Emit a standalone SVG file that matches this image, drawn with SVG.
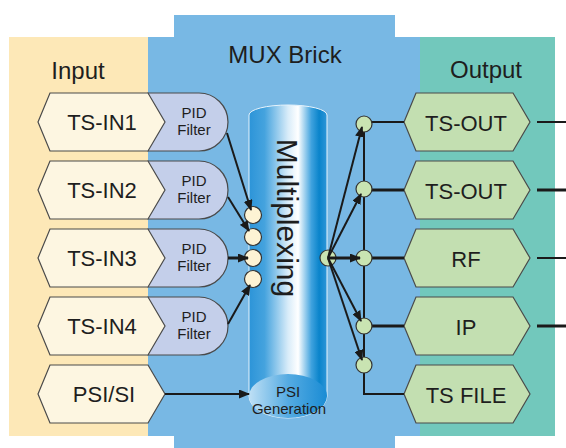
<svg xmlns="http://www.w3.org/2000/svg" width="566" height="448" viewBox="0 0 566 448">
<style>
.lbl{font-family:"Liberation Sans",Arial,sans-serif;fill:#1e1e1e;text-anchor:middle}
.big{font-size:24px}
.node{font-size:22px}
.small{font-size:15px}
.inhex{fill:#fdf6e1;stroke:#4a4a4a;stroke-width:1.2}
.outhex{fill:#c3dfb1;stroke:#4a4a4a;stroke-width:1.2}
.pid{fill:#c4cfea;stroke:#4a4a4a;stroke-width:1.2}
.inport{fill:#fdf3d4;stroke:#333;stroke-width:1.2}
.outport{fill:#c9e4b2;stroke:#333;stroke-width:1.2}
.ln{stroke:#1a1a1a;stroke-width:2;fill:none}
.thick{stroke-width:3}
</style>
<defs>
<marker id="ah" markerWidth="11" markerHeight="9" refX="10" refY="4.5" orient="auto" markerUnits="userSpaceOnUse">
<path d="M0,0 L11,4.5 L0,9 Z" fill="#1a1a1a"/>
</marker>
<linearGradient id="cyl" x1="0" y1="0" x2="1" y2="0">
<stop offset="0" stop-color="#2c94d8"/>
<stop offset="0.2" stop-color="#45a3de"/>
<stop offset="0.5" stop-color="#d8ecf9"/>
<stop offset="0.63" stop-color="#ffffff"/>
<stop offset="0.8" stop-color="#3fa2de"/>
<stop offset="0.9" stop-color="#0a84cb"/>
<stop offset="1" stop-color="#2e96d8"/>
</linearGradient>
<linearGradient id="psig" x1="0" y1="0" x2="1" y2="0">
<stop offset="0" stop-color="#bfe0f5"/>
<stop offset="0.5" stop-color="#55abe2"/>
<stop offset="1" stop-color="#1a8cd4"/>
</linearGradient>
</defs>

<g id="panels">
<rect x="9" y="37" width="139" height="399" fill="#fde8b7"/>
<path d="M174,15 H395 V37 H420 V436 H395 V448 H174 V436 H148 V37 H174 Z" fill="#78b8e4"/>
<rect x="420" y="37" width="135" height="399" fill="#72c8bc"/>
<text class="lbl big" x="78" y="79" font-size="25">Input</text>
<text class="lbl big" x="285" y="63">MUX Brick</text>
<text class="lbl big" x="486" y="78" font-size="25">Output</text>
</g>

<g id="cylinder">
<path d="M249,115 A39,10 0 0 1 327,115 V396 A39,22 0 0 1 249,396 Z" fill="url(#cyl)" stroke="#e6f3fc" stroke-width="1"/>
<path d="M249,396 A39,22 0 0 1 327,396 A39,22 0 0 1 249,396 Z" fill="url(#psig)"/>
<text class="lbl" font-size="30" transform="translate(277,218) rotate(90)" x="0" y="0">Multiplexing</text>
<text class="lbl small" x="288" y="397">PSI</text>
<text class="lbl small" x="289" y="414">Generation</text>
</g>

<g id="pid1"><path class="pid" d="M148,93 H199 A29,29 0 0 1 199,151 H148 Z"/><text class="lbl small" x="194" y="118">PID</text><text class="lbl small" x="194" y="135">Filter</text></g>
<g id="pid2"><path class="pid" d="M148,161 H199 A29,29 0 0 1 199,219 H148 Z"/><text class="lbl small" x="194" y="186">PID</text><text class="lbl small" x="194" y="203">Filter</text></g>
<g id="pid3"><path class="pid" d="M148,229 H199 A29,29 0 0 1 199,287 H148 Z"/><text class="lbl small" x="194" y="254">PID</text><text class="lbl small" x="194" y="271">Filter</text></g>
<g id="pid4"><path class="pid" d="M148,297 H199 A29,29 0 0 1 199,355 H148 Z"/><text class="lbl small" x="194" y="322">PID</text><text class="lbl small" x="194" y="339">Filter</text></g>

<g id="ts-in1"><path class="inhex" d="M38,122 L50,93 H148 L165,122 L148,151 H50 Z"/><text class="lbl node" x="102" y="130">TS-IN1</text></g>
<g id="ts-in2"><path class="inhex" d="M38,190 L50,161 H148 L165,190 L148,219 H50 Z"/><text class="lbl node" x="102" y="198">TS-IN2</text></g>
<g id="ts-in3"><path class="inhex" d="M38,258 L50,229 H148 L165,258 L148,287 H50 Z"/><text class="lbl node" x="102" y="266">TS-IN3</text></g>
<g id="ts-in4"><path class="inhex" d="M38,326 L50,297 H148 L165,326 L148,355 H50 Z"/><text class="lbl node" x="102" y="334">TS-IN4</text></g>
<g id="psi-si"><path class="inhex" d="M38,394 L50,365 H148 L165,394 L148,423 H50 Z"/><text class="lbl node" x="104" y="402">PSI/SI</text></g>

<g id="ts-out1"><path class="outhex" d="M404,122 L416,93 H513 L530,122 L513,151 H416 Z"/><text class="lbl node" x="466" y="131">TS-OUT</text></g>
<g id="ts-out2"><path class="outhex" d="M404,190 L416,161 H513 L530,190 L513,219 H416 Z"/><text class="lbl node" x="466" y="199">TS-OUT</text></g>
<g id="rf"><path class="outhex" d="M404,258 L416,229 H513 L530,258 L513,287 H416 Z"/><text class="lbl node" x="466" y="267">RF</text></g>
<g id="ip"><path class="outhex" d="M404,326 L416,297 H513 L530,326 L513,355 H416 Z"/><text class="lbl node" x="466" y="335">IP</text></g>
<g id="ts-file"><path class="outhex" d="M404,394 L416,365 H513 L530,394 L513,423 H416 Z"/><text class="lbl node" x="466" y="403">TS FILE</text></g>

<g id="connectors">
<path class="ln" d="M364,122 V394 H404"/>
<path class="ln" d="M364,122 H404"/>
<path class="ln thick" d="M364,190 H404"/>
<path class="ln thick" d="M364,258 H404"/>
<path class="ln thick" d="M364,326 H404"/>
<path class="ln" d="M537,122 H566"/>
<path class="ln thick" d="M537,190 H566"/>
<path class="ln" d="M537,258 H566"/>
<path class="ln thick" d="M537,326 H566"/>

<g id="ports">
<circle class="inport" cx="253" cy="215" r="8.5"/>
<circle class="inport" cx="253" cy="237" r="8.5"/>
<circle class="inport" cx="253" cy="258" r="8.5"/>
<circle class="inport" cx="253" cy="279" r="8.5"/>
<circle class="outport" cx="328" cy="258" r="8"/>
<circle class="outport" cx="364" cy="124" r="8"/>
<circle class="outport" cx="364" cy="189" r="8"/>
<circle class="outport" cx="364" cy="258" r="8"/>
<circle class="outport" cx="364" cy="326" r="8" stroke-width="2"/>
<circle class="outport" cx="364" cy="365" r="8"/>
</g>

<path class="ln" d="M227,133 L251,210" marker-end="url(#ah)"/>
<path class="ln" d="M228,197 L249,231" marker-end="url(#ah)"/>
<path class="ln thick" d="M228,258 L248,258" marker-end="url(#ah)"/>
<path class="ln" d="M228,324 L250,285" marker-end="url(#ah)"/>
<path class="ln" d="M165,394 L249,394" marker-end="url(#ah)"/>

<path class="ln" d="M328,258 L362,127" marker-end="url(#ah)"/>
<path class="ln" d="M328,258 L361,194" marker-end="url(#ah)"/>
<path class="ln thick" d="M328,258 L360,258" marker-end="url(#ah)"/>
<path class="ln" d="M328,258 L361,321" marker-end="url(#ah)"/>
<path class="ln" d="M328,258 L362,360" marker-end="url(#ah)"/>
</g>
</svg>
